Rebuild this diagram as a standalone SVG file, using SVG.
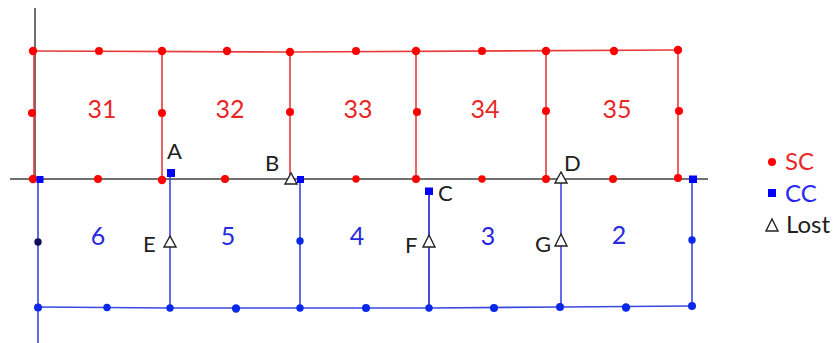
<svg xmlns="http://www.w3.org/2000/svg" width="839" height="343" viewBox="0 0 839 343">
<style>
.axis{stroke:#404040;stroke-width:1.5;fill:none}
.rl{stroke:#e83a3a;stroke-width:1.6;fill:none}
.bl{stroke:#3a48e0;stroke-width:1.6;fill:none}
.bld{stroke:#1a1ad0;stroke-width:1.6;fill:none}
.rd{fill:#ff0000}
.bd{fill:#0a28e8}
.sq{fill:#0000ff}
.tri{fill:#ffffff;stroke:#222;stroke-width:1.4}
text{font-family:Lato,"Liberation Sans",sans-serif}
.rn{fill:#e82828;font-size:25px;text-anchor:middle}
.bn{fill:#2828e0;font-size:25px;text-anchor:middle}
.lb{fill:#202020;font-size:22px}
.lg{font-size:24px}
</style>
<g id="connectors">
<line class="axis" x1="35" y1="8" x2="35" y2="179"/>
<line class="axis" x1="10" y1="179" x2="708" y2="179"/>
<polyline class="rl" points="33,51 290,52 678,50"/>
<line class="rl" x1="34" y1="51" x2="34" y2="179"/>
<line class="rl" x1="162" y1="51" x2="162" y2="179"/>
<line class="rl" x1="290" y1="52" x2="290" y2="179"/>
<line class="rl" x1="416" y1="51" x2="416" y2="179"/>
<line class="rl" x1="546" y1="51" x2="546" y2="179"/>
<line class="rl" x1="678" y1="50" x2="678" y2="179"/>
<line class="bl" x1="38" y1="180" x2="38" y2="343"/>
<line class="bl" x1="170" y1="173" x2="170" y2="308"/>
<line class="bl" x1="300" y1="180" x2="300" y2="308"/>
<line class="bld" x1="429" y1="191" x2="429" y2="308"/>
<line class="bl" x1="561" y1="179" x2="561" y2="307"/>
<line class="bl" x1="692" y1="180" x2="692" y2="306"/>
<polyline class="bl" points="38,307 170,308 429,308 561,307 692,306"/>
</g>
<g id="sc-nodes">
<circle class="rd" cx="33" cy="51" r="4.2"/>
<circle class="rd" cx="99" cy="51" r="4"/>
<circle class="rd" cx="162" cy="51" r="4.2"/>
<circle class="rd" cx="227" cy="51" r="4.2"/>
<circle class="rd" cx="290" cy="52" r="4.2"/>
<circle class="rd" cx="356" cy="51" r="4"/>
<circle class="rd" cx="416" cy="51" r="4.2"/>
<circle class="rd" cx="482" cy="51" r="4"/>
<circle class="rd" cx="546" cy="51" r="4.2"/>
<circle class="rd" cx="614" cy="51" r="4.2"/>
<circle class="rd" cx="678" cy="50" r="4.2"/>
<circle class="rd" cx="32" cy="113" r="4"/>
<circle class="rd" cx="162" cy="113" r="4"/>
<circle class="rd" cx="290" cy="112" r="4"/>
<circle class="rd" cx="417" cy="112" r="4"/>
<circle class="rd" cx="546" cy="111" r="4"/>
<circle class="rd" cx="679" cy="111" r="4"/>
<circle class="rd" cx="33" cy="179" r="4.2"/>
<circle class="rd" cx="98" cy="179" r="4"/>
<circle class="rd" cx="162" cy="180" r="4.2"/>
<circle class="rd" cx="225" cy="179" r="4"/>
<circle class="rd" cx="356" cy="179" r="3.7"/>
<circle class="rd" cx="416" cy="179" r="4"/>
<circle class="rd" cx="482" cy="179" r="3.7"/>
<circle class="rd" cx="546" cy="179" r="4"/>
<circle class="rd" cx="613" cy="179" r="4"/>
<circle class="rd" cx="678" cy="178" r="4"/>
</g>
<g id="cc-nodes">
<rect class="sq" x="36.5" y="176" width="7" height="7"/>
<rect class="sq" x="167" y="169" width="8" height="8"/>
<rect class="sq" x="297" y="176" width="7" height="7"/>
<rect class="sq" x="425" y="187.5" width="8" height="7.5"/>
<rect class="sq" x="689" y="175.5" width="8" height="7.5"/>
</g>
<g id="c-nodes">
<circle class="bd" cx="38" cy="242" r="3.7" style="fill:#10105a"/>
<circle class="bd" cx="300" cy="241" r="3.7"/>
<circle class="bd" cx="692" cy="240" r="3.7"/>
<circle class="bd" cx="38" cy="307.5" r="4"/>
<circle class="bd" cx="107" cy="307.5" r="3.7"/>
<circle class="bd" cx="170" cy="308" r="3.7"/>
<circle class="bd" cx="236" cy="308.5" r="4.2"/>
<circle class="bd" cx="300" cy="308" r="3.7"/>
<circle class="bd" cx="366" cy="308" r="4"/>
<circle class="bd" cx="429" cy="308" r="3.7"/>
<circle class="bd" cx="494" cy="308" r="4"/>
<circle class="bd" cx="560" cy="307" r="4"/>
<circle class="bd" cx="626" cy="307.5" r="4.2"/>
<circle class="bd" cx="692" cy="306" r="4"/>
</g>
<g id="lost-nodes">
<polygon class="tri" points="291,173 285,184 297,184"/>
<polygon class="tri" points="561,172 555,183 567,183"/>
<polygon class="tri" points="170,236 164,247 176,247"/>
<polygon class="tri" points="429,235 423,247 435,247"/>
<polygon class="tri" points="561,234 555,246 567,246"/>
</g>
<g id="labels">
<text class="rn" x="102" y="118">31</text>
<text class="rn" x="230" y="118">32</text>
<text class="rn" x="358" y="118">33</text>
<text class="rn" x="485" y="118">34</text>
<text class="rn" x="617" y="118">35</text>
<text class="bn" x="98" y="245">6</text>
<text class="bn" x="228" y="245">5</text>
<text class="bn" x="357" y="245">4</text>
<text class="bn" x="488" y="245">3</text>
<text class="bn" x="619" y="244">2</text>
<text class="lb" x="167" y="159">A</text>
<text class="lb" x="265" y="171">B</text>
<text class="lb" x="438" y="201">C</text>
<text class="lb" x="564" y="171">D</text>
<text class="lb" x="143" y="252">E</text>
<text class="lb" x="405" y="253">F</text>
<text class="lb" x="535" y="252">G</text>
</g>
<g id="legend">
<circle class="rd" cx="772" cy="162" r="4"/>
<text class="lg" x="785" y="170" fill="#e82828">SC</text>
<rect class="sq" x="768" y="189" width="8" height="8"/>
<text class="lg" x="785" y="202" fill="#2828f0">CC</text>
<polygon class="tri" points="772,219 766,231 778,231"/>
<text class="lg" x="786" y="233" fill="#202020">Lost</text>
</g>
</svg>
